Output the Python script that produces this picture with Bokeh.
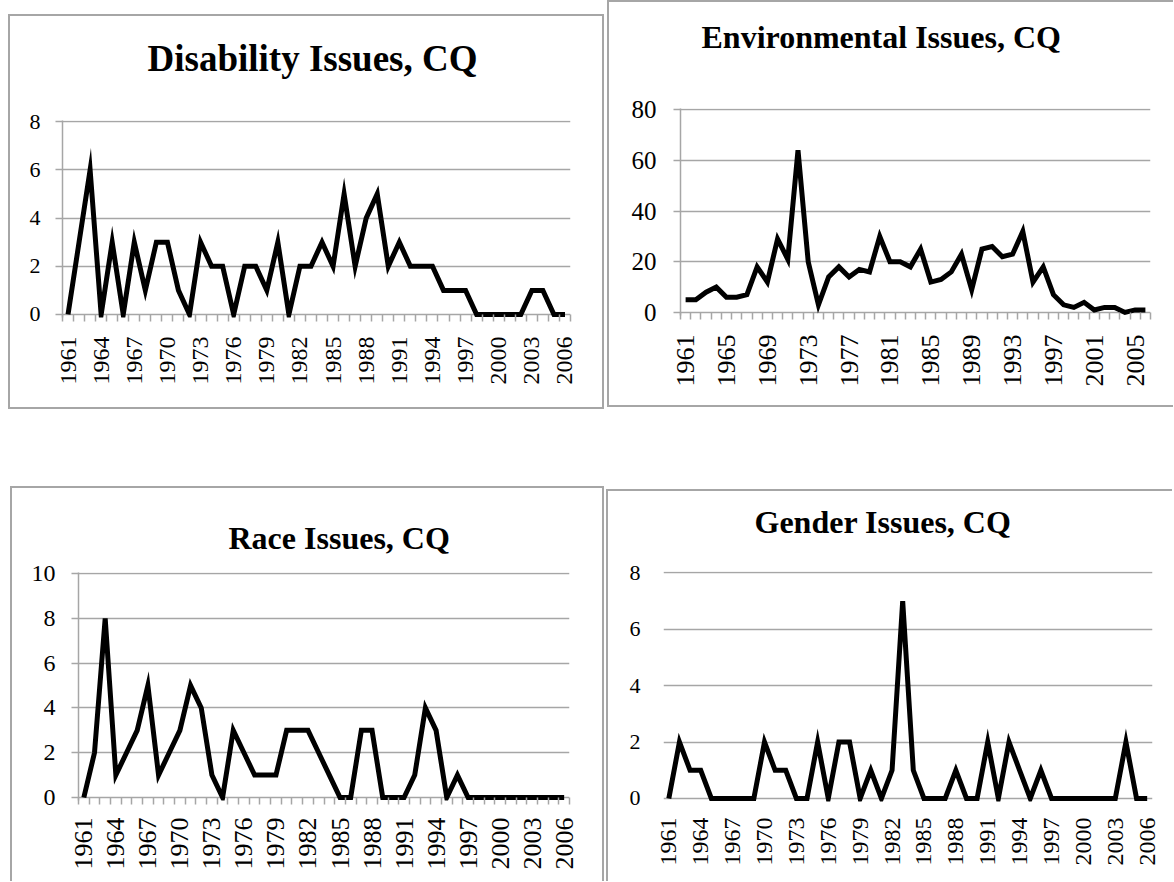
import math
from bokeh.plotting import figure
from bokeh.layouts import row, column
from bokeh.models import Range1d, FixedTicker, Spacer
from bokeh.core.properties import value
from bokeh.embed import file_html
from bokeh.resources import INLINE

# ---------------- data ----------------
YEARS = list(range(1961, 2007))

DISABILITY = [0, 3, 6, 0, 3, 0, 3, 1, 3, 3,
              1, 0, 3, 2, 2, 0, 2, 2, 1, 3,
              0, 2, 2, 3, 2, 5, 2, 4, 5, 2,
              3, 2, 2, 2, 1, 1, 1, 0, 0, 0,
              0, 0, 1, 1, 0, 0]

ENVIRONMENT = [5, 5, 8, 10, 6, 6, 7, 18, 12, 29,
               21, 64, 20, 3, 14, 18, 14, 17, 16, 30,
               20, 20, 18, 25, 12, 13, 16, 23, 9, 25,
               26, 22, 23, 32, 12, 18, 7, 3, 2, 4,
               1, 2, 2, 0, 1, 1]

RACE = [0, 2, 8, 1, 2, 3, 5, 1, 2, 3,
        5, 4, 1, 0, 3, 2, 1, 1, 1, 3,
        3, 3, 2, 1, 0, 0, 3, 3, 0, 0,
        0, 1, 4, 3, 0, 1, 0, 0, 0, 0,
        0, 0, 0, 0, 0, 0]

GENDER = [0, 2, 1, 1, 0, 0, 0, 0, 0, 2,
          1, 1, 0, 0, 2, 0, 2, 2, 0, 1,
          0, 1, 7, 1, 0, 0, 0, 1, 0, 0,
          2, 0, 2, 1, 0, 1, 0, 0, 0, 0,
          0, 0, 0, 2, 0, 0]

LABELS_EVERY_3 = [1961, 1964, 1967, 1970, 1973, 1976, 1979, 1982, 1985,
                  1988, 1991, 1994, 1997, 2000, 2003, 2006]
LABELS_EVERY_4 = [1961, 1965, 1969, 1973, 1977, 1981, 1985, 1989, 1993,
                  1997, 2001, 2005]

Y_DIS = [0, 2, 4, 6, 8]
Y_ENV = [0, 20, 40, 60, 80]
Y_RACE = [0, 2, 4, 6, 8, 10]
Y_GEN = [0, 2, 4, 6, 8]

TITLES = ["Disability Issues, CQ", "Environmental Issues, CQ",
          "Race Issues, CQ", "Gender Issues, CQ"]

GREY = "#a6a6a6"
FONT = "Liberation Serif"
BL_ = "inset 2px 0 0 #a6a6a6"
BR_ = "inset -2px 0 0 #a6a6a6"
BT_ = "inset 0 2px 0 #a6a6a6"
BB_ = "inset 0 -2px 0 #a6a6a6"
BASELINE_FIX = 11  # measured shift of the text glyph's alphabetic baseline


def shadow(parts):
    return {"box-shadow": ", ".join(parts)} if parts else {}


def title_fig(title, w, th, ml, mr, tsize, tx, base, parts):
    # the frame of this strip is aligned with the chart frame below it,
    # so its x range is expressed in the panel's own pixel units
    t = figure(width=w, height=th, x_range=Range1d(ml, w - mr), y_range=Range1d(0, th),
               x_axis_location=None, y_axis_location=None, min_border=0,
               output_backend="svg", toolbar_location=None, styles=shadow(parts))
    t.border_fill_color = None
    t.background_fill_color = None
    t.outline_line_color = None
    t.xgrid.visible = False
    t.ygrid.visible = False
    t.text(x=[tx], y=[th - base + BASELINE_FIX], text=[title], text_font=value(FONT),
           text_font_style="bold", text_font_size=f"{tsize}px",
           text_color="black", text_align="left", text_baseline="alphabetic")
    return t


def chart_fig(vals, xlabels, yticks, ylo, yhi, w, h, ml, mr, mt, mb,
              ylsize, xlsize, ylstand, xlstand, ticks_on, yline_on, parts):
    p = figure(width=w, height=h,
               x_range=Range1d(YEARS[0] - 0.5, YEARS[-1] + 0.5),
               y_range=Range1d(ylo, yhi),
               output_backend="svg", toolbar_location=None,
               min_border_left=ml, min_border_right=mr,
               min_border_top=mt, min_border_bottom=mb,
               styles=shadow(parts))
    p.border_fill_color = None
    p.background_fill_color = None
    p.outline_line_color = None

    p.line(YEARS, vals, line_width=5, line_color="black", line_join="miter")

    xa = p.xaxis[0]
    xa.ticker = FixedTicker(ticks=xlabels,
                            minor_ticks=[y - 0.5 for y in YEARS] + [YEARS[-1] + 0.5])
    xa.major_label_orientation = math.pi / 2
    xa.major_tick_out = 0
    xa.major_tick_in = 0
    xa.major_tick_line_color = None
    xa.minor_tick_in = 3 if ticks_on else 0
    xa.minor_tick_out = 4 if ticks_on else 0
    xa.minor_tick_line_color = GREY if ticks_on else None
    xa.minor_tick_line_width = 1.5
    xa.axis_line_color = None
    xa.major_label_text_font = FONT
    xa.major_label_text_font_size = f"{xlsize}px"
    xa.major_label_text_color = "black"
    xa.major_label_standoff = xlstand

    ya = p.yaxis[0]
    ya.ticker = FixedTicker(ticks=yticks, minor_ticks=[])
    ya.major_tick_out = 7 if ticks_on else 0
    ya.major_tick_in = 0
    ya.minor_tick_in = 0
    ya.minor_tick_out = 0
    ya.major_tick_line_color = GREY if ticks_on else None
    ya.major_tick_line_width = 1.5
    ya.axis_line_color = GREY if yline_on else None
    ya.axis_line_width = 1.5
    ya.major_label_text_font = FONT
    ya.major_label_text_font_size = f"{ylsize}px"
    ya.major_label_text_color = "black"
    ya.major_label_standoff = ylstand

    p.xgrid.visible = False
    p.ygrid.grid_line_color = GREY
    p.ygrid.grid_line_width = 1.5
    return p


# Top-left: Disability (panel 596 x 395)
tl = column(
    title_fig(TITLES[0], 596, 90, 54, 34, 37, 139, 55, [BL_, BR_, BT_]),
    chart_fig(DISABILITY, LABELS_EVERY_3, Y_DIS, -0.125, 8.05,
              596, 305, 54, 34, 16, 92, 22, 24, 15, 15, True, True,
              [BL_, BR_, BB_]))
# Top-right: Environmental (panel 566 x 407)
tr = column(
    title_fig(TITLES[1], 566, 90, 73, 23, 32, 94, 47, [BL_, BT_]),
    chart_fig(ENVIRONMENT, LABELS_EVERY_4, Y_ENV, -1.2, 80.5,
              566, 317, 73, 23, 18, 92, 25, 26, 17, 15, True, True,
              [BL_, BB_]))
# Bottom-left: Race (panel 594 x 395)
bl = column(
    title_fig(TITLES[2], 594, 71, 68, 35, 32, 218, 62, [BL_, BR_, BT_]),
    chart_fig(RACE, LABELS_EVERY_3, Y_RACE, -0.134, 10.05,
              594, 324, 68, 35, 15, 81, 24, 26, 16, 13, True, True,
              [BL_, BR_]))
# Bottom-right: Gender (panel 566 x 392)
br = column(
    title_fig(TITLES[3], 566, 68, 57, 20, 32, 148, 43, [BL_, BT_]),
    chart_fig(GENDER, LABELS_EVERY_3, Y_GEN, -0.107, 8.05,
              566, 324, 57, 20, 14, 80, 22, 24, 23, 16, False, False,
              [BL_]))

top = row(Spacer(width=8, height=10), column(Spacer(width=596, height=14), tl),
          Spacer(width=3, height=10), tr)
mid = Spacer(width=10, height=77)
bot = row(Spacer(width=10, height=10), bl, Spacer(width=2, height=10),
          column(Spacer(width=566, height=3), br))
lay = column(top, mid, bot)

open("out.html", "w").write(file_html(lay, INLINE))
